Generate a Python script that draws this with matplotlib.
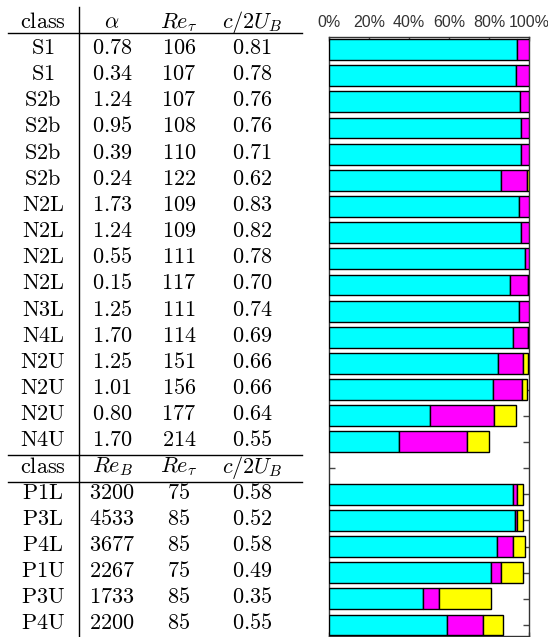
import numpy as np
import matplotlib
matplotlib.use("Agg")
import matplotlib.pyplot as plt
from matplotlib import transforms

plt.rcParams['mathtext.fontset'] = 'cm'

# ---- table data ----
classes_a = ['S1', 'S1', 'S2b', 'S2b', 'S2b', 'S2b', 'N2L', 'N2L', 'N2L', 'N2L',
             'N3L', 'N4L', 'N2U', 'N2U', 'N2U', 'N4U']
alpha = ['0.78', '0.34', '1.24', '0.95', '0.39', '0.24', '1.73', '1.24', '0.55', '0.15',
         '1.25', '1.70', '1.25', '1.01', '0.80', '1.70']
re_tau_a = ['106', '107', '107', '108', '110', '122', '109', '109', '111', '117',
            '111', '114', '151', '156', '177', '214']
c2ub_a = ['0.81', '0.78', '0.76', '0.76', '0.71', '0.62', '0.83', '0.82', '0.78', '0.70',
          '0.74', '0.69', '0.66', '0.66', '0.64', '0.55']

classes_b = ['P1L', 'P3L', 'P4L', 'P1U', 'P3U', 'P4U']
re_b = ['3200', '4533', '3677', '2267', '1733', '2200']
re_tau_b = ['75', '85', '85', '75', '85', '85']
c2ub_b = ['0.58', '0.52', '0.58', '0.49', '0.35', '0.55']

header_a = [r'$\mathrm{class}$', r'$\alpha$', r'$Re_\tau$', r'$c/2U_B$']
header_b = [r'$\mathrm{class}$', r'$Re_B$', r'$Re_\tau$', r'$c/2U_B$']

# ---- bar data (percent); row 16 is the gap for the second header ----
cyan_vals = [94.0, 93.5, 95.3, 95.8, 95.8, 86.2, 95.2, 96.2, 98.2, 90.7, 95.0, 92.2,
             84.7, 81.8, 50.7, 34.8, 0, 92.0, 93.2, 84.2, 81.0, 47.2, 59.0]
magenta_vals = [6.0, 6.5, 4.7, 4.2, 4.2, 13.0, 4.8, 3.8, 1.8, 8.7, 5.0, 7.3,
                12.5, 14.8, 31.6, 34.2, 0, 2.2, 1.0, 8.0, 5.2, 8.0, 18.2]
yellow_vals = [0, 0, 0, 0, 0, 0.6, 0, 0, 0, 0.4, 0, 0.3,
               2.1, 2.5, 11.0, 11.0, 0, 3.0, 3.0, 6.0, 11.0, 26.0, 10.0]
tick_labels = ['0%', '20%', '40%', '60%', '80%', '100%']

W, H = 548, 637
fig = plt.figure(figsize=(W / 100, H / 100), dpi=100)
ax = fig.add_axes([329 / W, 1 - 636 / H, 200 / W, (636 - 37) / H])

n = len(cyan_vals)
ypos = np.arange(n)
cy = np.array(cyan_vals)
mg = np.array(magenta_vals)
yl = np.array(yellow_vals)

for vals, left, col in [(cy, np.zeros(n), '#00ffff'), (mg, cy, '#ff00ff'), (yl, cy + mg, '#ffff00')]:
    m = vals > 0
    ax.barh(ypos[m], vals[m], left=left[m], height=0.8, color=col,
            edgecolor='black', linewidth=1.0, zorder=3)

ax.set_xlim(0, 100)
ax.set_ylim(22.42, -0.48)
ax.tick_params(axis='x', which='both', direction='in', top=True, bottom=True,
               labeltop=True, labelbottom=False, length=3, width=1,
               color='#555555', pad=5)
ax.tick_params(axis='y', which='both', direction='in', left=True, right=True,
               length=4.5, width=1, color='#444444')
ax.set_xticks(np.arange(0, 101, 20))
ax.set_xticklabels(tick_labels, fontfamily='Liberation Sans', color='#333333',
                   fontsize=11.5)
ax.set_yticks(ypos)
ax.set_yticklabels([])
for s in ax.spines.values():
    s.set_color('#333333')
    s.set_linewidth(1.0)

# ---- table as text ----
trans = transforms.blended_transform_factory(fig.transFigure, ax.transData)
col_x = [43 / W, 112 / W, 179 / W, 252 / W]
fs = 16
off = 0.17

def row(y, items):
    for x, t in zip(col_x, items):
        fig.text(x, y + off, t, transform=trans, ha='center', va='baseline',
                 fontsize=fs, clip_on=False)

def rm(s):
    return r'$\mathrm{' + s + '}$'

row(-1, header_a)
for i in range(len(classes_a)):
    row(i, [rm(classes_a[i]), rm(alpha[i]), rm(re_tau_a[i]), rm(c2ub_a[i])])
row(16, header_b)
for j in range(len(classes_b)):
    row(17 + j, [rm(classes_b[j]), rm(re_b[j]), rm(re_tau_b[j]), rm(c2ub_b[j])])

# table rules
for yl_ in [-0.64, 15.5, 16.53]:
    fig.add_artist(plt.Line2D([8 / W, 302 / W], [yl_, yl_], transform=trans,
                              color='black', linewidth=1.0))
fig.add_artist(plt.Line2D([79 / W, 79 / W], [-1.63, 23.0], transform=trans,
                          color='black', linewidth=1.0))

fig.savefig('out.png', dpi=100)
